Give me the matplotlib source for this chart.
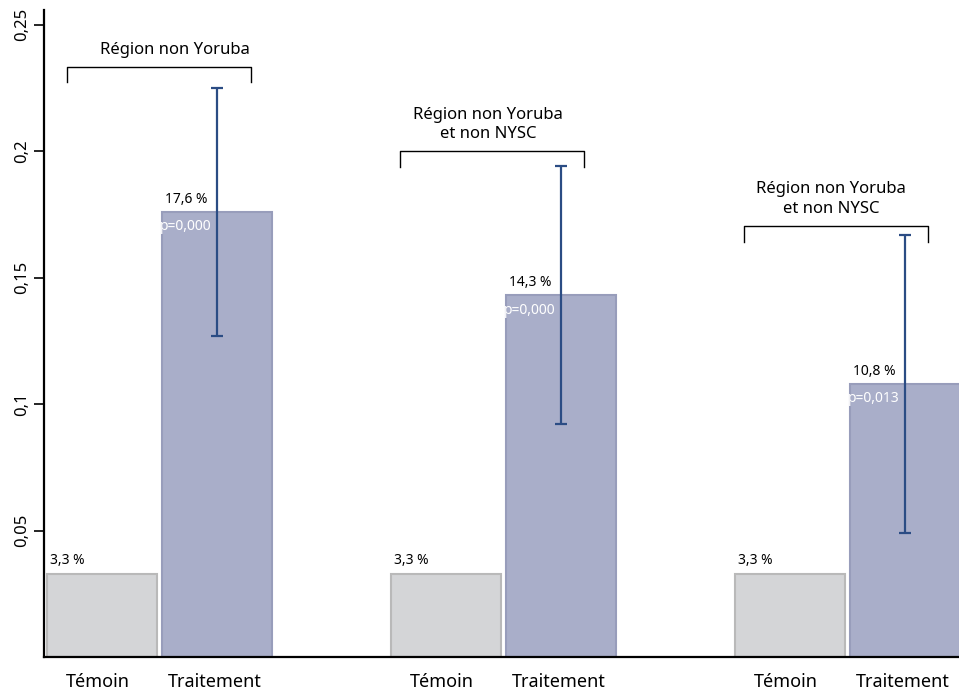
import matplotlib.pyplot as plt
from matplotlib.ticker import FixedLocator

# données
groupes = ["Région non Yoruba", "Région non Yoruba\net non NYSC", "Région non Yoruba\net non NYSC"]
temoin = [0.033, 0.033, 0.033]
traitement = [0.176, 0.143, 0.108]
ic_bas = [0.127, 0.092, 0.049]
ic_haut = [0.225, 0.194, 0.167]
p_valeurs = ["p=0,000", "p=0,000", "p=0,013"]
etiq_temoin = ["3,3 %", "3,3 %", "3,3 %"]
etiq_traitement = ["17,6 %", "14,3 %", "10,8 %"]
accolade_y = [0.2335, 0.2000, 0.1705]
yticks = [0.05, 0.1, 0.15, 0.2, 0.25]
ytick_labels = ["0,05", "0,1", "0,15", "0,2", "0,25"]

plt.rcParams['font.family'] = ['Noto Sans', 'DejaVu Sans']

fig = plt.figure(figsize=(9.59, 6.93), dpi=100)
ax = fig.add_axes([0.046, 0.052, 0.954, 0.934])

largeur = 1.0
pas = 3.127
x_tem = [0.527 + pas * g for g in range(3)]
x_tra = [x + 1.045 for x in x_tem]
# débordement des accolades de part et d'autre des barres
deb_gauche = [0.32, 0.42, 0.42]
deb_droite = [0.31, 0.21, 0.21]
# décalage horizontal du titre de groupe par rapport au centre de l'accolade
dec_titre = [0.145, -0.035, -0.045]

ax.bar(x_tem, temoin, width=largeur, color="#d4d5d7", edgecolor="#b9b9b9", linewidth=1.5)
ax.bar(x_tra, traitement, width=largeur, color="#a9aec9", edgecolor="#989dbb", linewidth=1.5)

for i in range(3):
    ax.vlines(x_tra[i], ic_bas[i], ic_haut[i], color="#2b4c84", linewidth=1.6)
    ax.hlines([ic_bas[i], ic_haut[i]], x_tra[i] - 0.055, x_tra[i] + 0.055, color="#2b4c84", linewidth=1.6)
    # étiquettes des valeurs
    ax.text(x_tem[i] - 0.47, temoin[i] + 0.002, etiq_temoin[i], fontsize=10, ha="left", va="bottom")
    ax.text(x_tra[i] - 0.47, traitement[i] + 0.002, etiq_traitement[i], fontsize=10, ha="left", va="bottom")
    ax.text(x_tra[i] - 0.52, traitement[i] - 0.0058, p_valeurs[i], fontsize=10, color="white",
            ha="left", va="center")
    # accolade du groupe
    g0 = x_tem[i] - deb_gauche[i]
    g1 = x_tra[i] + deb_droite[i]
    ya = accolade_y[i]
    ax.plot([g0, g0, g1, g1], [ya - 0.0062, ya, ya, ya - 0.0062], color="black", linewidth=1.0)
    ax.text((g0 + g1) / 2 + dec_titre[i], ya + 0.0035, groupes[i], fontsize=12, ha="center",
            va="bottom", linespacing=1.3)
    # noms des catégories
    ax.text(x_tem[i] - 0.04, -0.0065, "Témoin", fontsize=13, ha="center", va="top")
    ax.text(x_tra[i] - 0.02, -0.0065, "Traitement", fontsize=13, ha="center", va="top")

ax.set_xlim(0, 8.318)
ax.set_ylim(0, 0.256)
ax.yaxis.set_major_locator(FixedLocator(yticks))
ax.set_yticklabels(ytick_labels, rotation=90, va="center", fontsize=12)
ax.tick_params(axis="y", length=7, width=1.2, pad=3)
ax.set_xticks([])
for s in ["top", "right"]:
    ax.spines[s].set_visible(False)
ax.spines["left"].set_linewidth(1.6)
ax.spines["bottom"].set_linewidth(1.6)

fig.savefig("out.png", dpi=100)
